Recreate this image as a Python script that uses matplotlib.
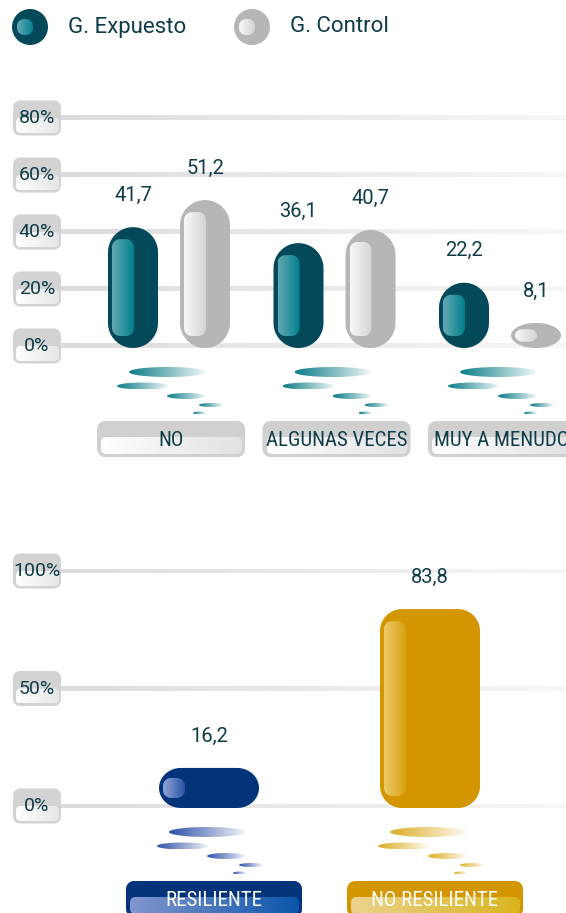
import numpy as np
import matplotlib.pyplot as plt
from matplotlib import font_manager
from matplotlib.patches import Polygon, Circle
from matplotlib.colors import to_rgb


def pick_font(names):
    for n in names:
        try:
            font_manager.findfont(n, fallback_to_default=False)
            return n
        except ValueError:
            pass
    return 'DejaVu Sans'


MAIN_FONT = pick_font(['Roboto', 'DejaVu Sans'])
NARROW_FONT = pick_font(['Roboto Condensed', 'Liberation Sans Narrow', 'Roboto'])
plt.rcParams['font.family'] = [MAIN_FONT, 'DejaVu Sans']

# ---- data ----
series_names = ['G. Expuesto', 'G. Control']
frequency = ['NO', 'ALGUNAS VECES', 'MUY A MENUDO']
expuesto = [41.7, 36.1, 22.2]
control = [51.2, 40.7, 8.1]
freq_ticks = [0, 20, 40, 60, 80]

resilience = ['RESILIENTE', 'NO RESILIENTE']
resilience_pct = [16.2, 83.8]
res_ticks = [0, 50, 100]

# ---- style ----
W, H, DPI = 566, 913, 100
TEXT = '#0e3c48'
TEAL = dict(outer='#03495a', hi=('#63a9b2', '#00808c'))
GRAY = dict(outer='#b6b6b6', hi=('#f8f8f8', '#d4d4d6'))
BLUE = dict(outer='#033479', hi=('#8fa3d6', '#2d55a5'), refl='#2e50a8',
            box=('#8396cf', '#0a56aa'))
GOLD = dict(outer='#d49600', hi=('#eccb68', '#d9a012'), refl='#dcae24',
            box=('#ecd38e', '#d8b51e'))
# reflection ellipses: x from, x to, y below zero line, height (pixels)
REFLECT = [(-40, 37, 26, 10), (-52, 0, 40, 7), (-2, 37, 50, 6),
           (30, 54, 59, 4), (24, 37, 67, 3)]

fig = plt.figure(figsize=(W / DPI, H / DPI), dpi=DPI)


def make_axes(top, bottom, x_first, x_step, zero_px, px_per_pct):
    ax = fig.add_axes([0, 1 - bottom / H, 1, (bottom - top) / H])
    ax.set_xlim(-x_first / x_step, (W - x_first) / x_step)
    ax.set_ylim((zero_px - bottom) / px_per_pct, (zero_px - top) / px_per_pct)
    ax.set_autoscale_on(False)
    ax.axis('off')
    return ax


def scale(ax):
    x0, x1 = ax.get_xlim()
    y0, y1 = ax.get_ylim()
    bb = ax.get_position()
    return (x1 - x0) / (bb.width * W), (y1 - y0) / (bb.height * H)


def rounded(ax, x0, x1, y0, y1, r_px, n=18):
    sx, sy = scale(ax)
    rx = min(r_px, (x1 - x0) / sx / 2) * sx
    ry = min(r_px, (y1 - y0) / sy / 2) * sy
    pts = []
    for cx, cy, a0 in [(x1 - rx, y1 - ry, 0), (x0 + rx, y1 - ry, 90),
                       (x0 + rx, y0 + ry, 180), (x1 - rx, y0 + ry, 270)]:
        t = np.radians(np.linspace(a0, a0 + 90, n))
        pts += list(zip(cx + rx * np.cos(t), cy + ry * np.sin(t)))
    return np.array(pts)


def ellipse(cx, cy, a, b, n=60):
    t = np.linspace(0, 2 * np.pi, n)
    return np.column_stack([cx + a * np.cos(t), cy + b * np.sin(t)])


def gradient(ax, verts, c0, c1, a0=1.0, a1=1.0, z=3):
    poly = Polygon(verts, closed=True, facecolor='none', edgecolor='none', zorder=z)
    ax.add_patch(poly)
    t = np.linspace(0, 1, 256)[:, None]
    rgba = (1 - t) * np.array([*to_rgb(c0), a0]) + t * np.array([*to_rgb(c1), a1])
    (x0, y0), (x1, y1) = verts.min(axis=0), verts.max(axis=0)
    im = ax.imshow(rgba[None, :, :], extent=(x0, x1, y0, y1), aspect='auto',
                   interpolation='bilinear', zorder=z)
    im.set_clip_path(poly)


def fill(ax, verts, color, z):
    ax.add_patch(Polygon(verts, closed=True, facecolor=color, edgecolor='none', zorder=z))


def grid_and_ticks(ax, ticks):
    sx, sy = scale(ax)
    xl = ax.get_xlim()
    for t in ticks:
        x0 = xl[0] + 60 * sx
        strip = np.array([[x0, t - 2.5 * sy], [xl[1], t - 2.5 * sy],
                          [xl[1], t + 2.5 * sy], [x0, t + 2.5 * sy]])
        gradient(ax, strip, '#dcdcde', '#f7f7f7', z=1)
        bx0, bx1 = xl[0] + 13 * sx, xl[0] + 61 * sx
        fill(ax, rounded(ax, bx0, bx1, t - 17.5 * sy, t + 17.5 * sy, 7), '#d3d3d3', 5)
        gradient(ax, rounded(ax, bx0 + 3 * sx, bx1 - 2 * sx, t - 15 * sy, t, 4),
                 '#ffffff', '#e6e6e8', z=5)
        ax.text((bx0 + bx1) / 2, t, f'{t}%', ha='center', va='center',
                fontsize=14, color=TEXT, zorder=6)


def capsule(ax, xc, value, width_px, r_px, style):
    sx, sy = scale(ax)
    half = width_px * sx / 2
    base = -2 * sy
    fill(ax, rounded(ax, xc - half, xc + half, base, value, r_px), style['outer'], 3)
    inset = min(12, (value - base) / sy / 4)
    hv = rounded(ax, xc - half + 4 * sx, xc - half + 26 * sx,
                 base + inset * sy, value - inset * sy, 8)
    gradient(ax, hv, *style['hi'], z=4)
    ax.annotate(f'{value:.1f}'.replace('.', ','), (xc, value), xytext=(0, 23),
                textcoords='offset points', ha='center', va='center',
                fontsize=14.5, color=TEXT, zorder=6)


def reflection(ax, xc, color):
    sx, sy = scale(ax)
    for a, b, dy, h in REFLECT:
        cx = xc + (a + b) / 2 * sx
        verts = ellipse(cx, -dy * sy, (b - a) / 2 * sx, h / 2 * sy)
        gradient(ax, verts, color, color, 1.0, 0.05, z=2)


def category_box(ax, xc, width_px, label, outer, band, text_color):
    sx, sy = scale(ax)
    x0, x1 = xc - width_px / 2 * sx, xc + width_px / 2 * sx
    y1, y0 = -75 * sy, -111 * sy
    fill(ax, rounded(ax, x0, x1, y0, y1, 8), outer, 5)
    gradient(ax, rounded(ax, x0 + 4 * sx, x1 - 3 * sx, y0 + 3 * sy, y1 - 16 * sy, 5),
             *band, z=5)
    ax.text(xc, y1 - 19 * sy, label, ha='center', va='center', fontsize=15,
            family=[NARROW_FONT, MAIN_FONT], color=text_color, zorder=6, clip_on=False)


# ---- legend ----
lax = fig.add_axes([0, 1 - 60 / H, 1, 60 / H])
lax.set_xlim(0, W)
lax.set_ylim(0, 60)
lax.set_autoscale_on(False)
lax.axis('off')
for i, (name, style) in enumerate(zip(series_names, [TEAL, GRAY])):
    cx, cy = 30 + 222 * i, 33
    lax.add_patch(Circle((cx, cy), 18, facecolor=style['outer'], edgecolor='none', zorder=3))
    gradient(lax, rounded(lax, cx - 13, cx + 3, cy - 8, cy + 8, 7), *style['hi'], z=4)
    lax.text(cx + 38, cy, name, ha='left', va='center', fontsize=16, color=TEXT)

# ---- top chart: frequency ----
ax1 = make_axes(60, 470, 169, 165.5, 346, 2.85)
grid_and_ticks(ax1, freq_ticks)
off = 36 / 165.5
for i, cat in enumerate(frequency):
    capsule(ax1, i - off, expuesto[i], 50, 25, TEAL)
    capsule(ax1, i + off, control[i], 50, 25, GRAY)
    reflection(ax1, i, '#0a7c88')
    category_box(ax1, i + 2 / 165.5, 148, cat, '#d0d0d0', ('#ffffff', '#e2e2e4'), TEXT)

# ---- bottom chart: resilience ----
ax2 = make_axes(530, 913, 209, 221, 806, 2.35)
grid_and_ticks(ax2, res_ticks)
for i, (cat, style) in enumerate(zip(resilience, [BLUE, GOLD])):
    capsule(ax2, i, resilience_pct[i], 100, 22, style)
    reflection(ax2, i, style['refl'])
    category_box(ax2, i + 5 / 221, 176, cat, style['outer'], style['box'], 'white')

fig.savefig('out.png', dpi=DPI)
